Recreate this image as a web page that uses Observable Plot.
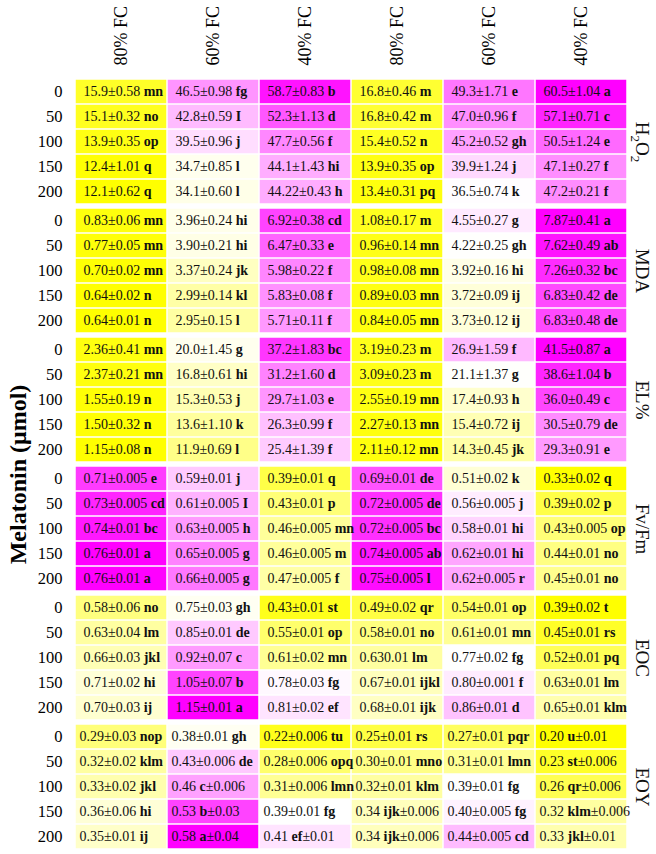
<!DOCTYPE html>
<html><head><meta charset="utf-8">
<script src="https://cdn.jsdelivr.net/npm/d3@7"></script>
<script src="https://cdn.jsdelivr.net/npm/@observablehq/plot@0.6"></script>
<style>body{margin:0;background:#fff}</style>
</head><body><div id="chart"></div>
<script>
const doses = ["0", "50", "100", "150", "200"];
const colLabels = ["80% FC", "60% FC", "40% FC", "80% FC", "60% FC", "40% FC"];
const traits = ["H2O2", "MDA", "EL%", "Fv/Fm", "EOC", "EOY"];
const yTitle = "Melatonin (μmol)";

const h2o2 = [
  ["15.9±0.58 mn", "46.5±0.98 fg", "58.7±0.83 b", "16.8±0.46 m", "49.3±1.71 e", "60.5±1.04 a"],
  ["15.1±0.32 no", "42.8±0.59 I", "52.3±1.13 d", "16.8±0.42 m", "47.0±0.96 f", "57.1±0.71 c"],
  ["13.9±0.35 op", "39.5±0.96 j", "47.7±0.56 f", "15.4±0.52 n", "45.2±0.52 gh", "50.5±1.24 e"],
  ["12.4±1.01 q", "34.7±0.85 l", "44.1±1.43 hi", "13.9±0.35 op", "39.9±1.24 j", "47.1±0.27 f"],
  ["12.1±0.62 q", "34.1±0.60 l", "44.22±0.43 h", "13.4±0.31 pq", "36.5±0.74 k", "47.2±0.21 f"]
];
const mda = [
  ["0.83±0.06 mn", "3.96±0.24 hi", "6.92±0.38 cd", "1.08±0.17 m", "4.55±0.27 g", "7.87±0.41 a"],
  ["0.77±0.05 mn", "3.90±0.21 hi", "6.47±0.33 e", "0.96±0.14 mn", "4.22±0.25 gh", "7.62±0.49 ab"],
  ["0.70±0.02 mn", "3.37±0.24 jk", "5.98±0.22 f", "0.98±0.08 mn", "3.92±0.16 hi", "7.26±0.32 bc"],
  ["0.64±0.02 n", "2.99±0.14 kl", "5.83±0.08 f", "0.89±0.03 mn", "3.72±0.09 ij", "6.83±0.42 de"],
  ["0.64±0.01 n", "2.95±0.15 l", "5.71±0.11 f", "0.84±0.05 mn", "3.73±0.12 ij", "6.83±0.48 de"]
];
const el = [
  ["2.36±0.41 mn", "20.0±1.45 g", "37.2±1.83 bc", "3.19±0.23 m", "26.9±1.59 f", "41.5±0.87 a"],
  ["2.37±0.21 mn", "16.8±0.61 hi", "31.2±1.60 d", "3.09±0.23 m", "21.1±1.37 g", "38.6±1.04 b"],
  ["1.55±0.19 n", "15.3±0.53 j", "29.7±1.03 e", "2.55±0.19 mn", "17.4±0.93 h", "36.0±0.49 c"],
  ["1.50±0.32 n", "13.6±1.10 k", "26.3±0.99 f", "2.27±0.13 mn", "15.4±0.72 ij", "30.5±0.79 de"],
  ["1.15±0.08 n", "11.9±0.69 l", "25.4±1.39 f", "2.11±0.12 mn", "14.3±0.45 jk", "29.3±0.91 e"]
];
const fvfm = [
  ["0.71±0.005 e", "0.59±0.01 j", "0.39±0.01 q", "0.69±0.01 de", "0.51±0.02 k", "0.33±0.02 q"],
  ["0.73±0.005 cd", "0.61±0.005 I", "0.43±0.01 p", "0.72±0.005 de", "0.56±0.005 j", "0.39±0.02 p"],
  ["0.74±0.01 bc", "0.63±0.005 h", "0.46±0.005 mn", "0.72±0.005 bc", "0.58±0.01 hi", "0.43±0.005 op"],
  ["0.76±0.01 a", "0.65±0.005 g", "0.46±0.005 m", "0.74±0.005 ab", "0.62±0.01 hi", "0.44±0.01 no"],
  ["0.76±0.01 a", "0.66±0.005 g", "0.47±0.005 f", "0.75±0.005 l", "0.62±0.005 r", "0.45±0.01 no"]
];
const eoc = [
  ["0.58±0.06 no", "0.75±0.03 gh", "0.43±0.01 st", "0.49±0.02 qr", "0.54±0.01 op", "0.39±0.02 t"],
  ["0.63±0.04 lm", "0.85±0.01 de", "0.55±0.01 op", "0.58±0.01 no", "0.61±0.01 mn", "0.45±0.01 rs"],
  ["0.66±0.03 jkl", "0.92±0.07 c", "0.61±0.02 mn", "0.630.01 lm", "0.77±0.02 fg", "0.52±0.01 pq"],
  ["0.71±0.02 hi", "1.05±0.07 b", "0.78±0.03 fg", "0.67±0.01 ijkl", "0.80±0.001 f", "0.63±0.01 lm"],
  ["0.70±0.03 ij", "1.15±0.01 a", "0.81±0.02 ef", "0.68±0.01 ijk", "0.86±0.01 d", "0.65±0.01 klm"]
];
const eoy = [
  ["0.29±0.03 nop", "0.38±0.01 gh", "0.22±0.006 tu", "0.25±0.01 rs", "0.27±0.01 pqr", "0.20 u±0.01"],
  ["0.32±0.02 klm", "0.43±0.006 de", "0.28±0.006 opq", "0.30±0.01 mno", "0.31±0.01 lmn", "0.23 st±0.006"],
  ["0.33±0.02 jkl", "0.46 c±0.006", "0.31±0.006 lmn", "0.32±0.01 klm", "0.39±0.01 fg", "0.26 qr±0.006"],
  ["0.36±0.06 hi", "0.53 b±0.03", "0.39±0.01 fg", "0.34 ijk±0.006", "0.40±0.005 fg", "0.32 klm±0.006"],
  ["0.35±0.01 ij", "0.58 a±0.04", "0.41 ef±0.01", "0.34 ijk±0.006", "0.44±0.005 cd", "0.33 jkl±0.01"]
];

const tables = [h2o2, mda, el, fvfm, eoc, eoy];
const cells = [];
tables.forEach((rows, k) => {
  const vals = rows.flat().map(s => parseFloat(s));
  const lo = d3.min(vals), hi = d3.max(vals);
  rows.forEach((row, r) => row.forEach((label, c) => {
    const v = parseFloat(label);
    cells.push({trait: traits[k], dose: doses[r], col: c, label, value: v, t: (v - lo) / (hi - lo)});
  }));
});

const serif = '"Liberation Serif","Times New Roman",serif';
const chart = Plot.plot({
  width: 656, height: 854,
  marginTop: 77, marginBottom: 2, marginLeft: 73, marginRight: 28,
  style: {fontFamily: serif, fontSize: "16px", color: "#000", background: "#fff"},
  x: {type: "band", domain: d3.range(6), padding: 0},
  y: {type: "band", domain: doses, padding: 0},
  fy: {domain: traits, paddingInner: 0.0155, paddingOuter: 0, axis: null},
  color: {type: "linear", domain: [0, 0.5, 1], range: ["#ffff00", "#ffffff", "#ff00ff"], interpolate: "rgb"},
  marks: [
    Plot.cell(cells, {x: "col", y: "dose", fy: "trait", fill: "t", inset: 0.75}),
    Plot.text(cells.filter(d => d.trait !== "EOY"), {x: "col", y: "dose", fy: "trait", text: "label",
      textAnchor: "start", dx: -38, fontSize: 14, fill: "#111", className: "cell-label"}),
    Plot.text(cells.filter(d => d.trait === "EOY"), {x: "col", y: "dose", fy: "trait", text: "label",
      textAnchor: "start", dx: -42, fontSize: 14, fill: "#111", className: "cell-label"}),
    Plot.axisX({anchor: "top", tickSize: 0, tickPadding: 13, tickRotate: -90, textAnchor: "start",
      lineAnchor: "middle", fontSize: 18, tickFormat: i => colLabels[i], label: null}),
    Plot.axisY({anchor: "left", tickSize: 0, tickPadding: 11, fontSize: 16.5, label: null}),
    Plot.text(traits, {fy: d => d, frameAnchor: "right", dx: 14, rotate: 90, text: d => d,
      textAnchor: "middle", lineAnchor: "middle", fontSize: 19, fill: "#111", className: "trait-label"}),
    Plot.text([yTitle], {frameAnchor: "left", facet: "super", dx: -55, dy: 10, rotate: -90, text: d => d,
      fontWeight: "bold", fontSize: 24, textAnchor: "middle", lineAnchor: "middle", fill: "#000"})
  ]
});

const NS = "http://www.w3.org/2000/svg";
chart.querySelectorAll('.cell-label text').forEach(t => {
  const s = t.textContent; t.textContent = "";
  s.split(/([A-Za-z]+)/).forEach(part => {
    if (!part) return;
    const ts = document.createElementNS(NS, "tspan");
    if (/[A-Za-z]/.test(part)) ts.setAttribute("font-weight", "bold");
    ts.textContent = part; t.appendChild(ts);
  });
});
chart.querySelectorAll('.trait-label text').forEach(t => {
  const s = t.textContent;
  if (!/\d/.test(s)) return;
  t.textContent = "";
  s.split(/(\d)/).forEach(part => {
    if (!part) return;
    const ts = document.createElementNS(NS, "tspan");
    if (/\d/.test(part)) { ts.setAttribute("font-size", "13"); ts.setAttribute("dy", "5"); }
    else if (t.childNodes.length) ts.setAttribute("dy", "-5");
    ts.textContent = part; t.appendChild(ts);
  });
});
document.getElementById("chart").appendChild(chart);
</script>
</body></html>
